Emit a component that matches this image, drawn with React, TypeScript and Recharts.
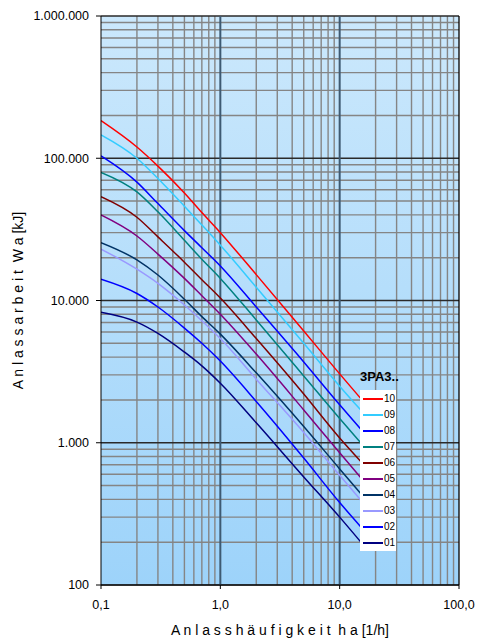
import React from 'react';
import { LineChart, Line, XAxis, YAxis, CartesianGrid, Legend } from 'recharts';

// starting frequency ha [1/h]
const ha = [0.1, 0.2, 0.3, 0.5, 0.7, 1, 2, 5, 10, 15];

// starting work Wa [kJ] per size
const wa10 = [184000, 120000, 88000, 57000, 41500, 30000, 15200, 6100, 3050, 2050];
const wa09 = [146000, 100000, 72000, 46000, 34000, 24500, 12400, 5000, 2500, 1700];
const wa08 = [104000, 68000, 48000, 31000, 23500, 17500, 9000, 3700, 1850, 1250];
const wa07 = [79600, 58000, 42000, 26500, 19500, 14300, 7300, 2950, 1480, 1000];
const wa06 = [53700, 38500, 28000, 18600, 14000, 10400, 5400, 2200, 1080, 740];
const wa05 = [39900, 28400, 21200, 14300, 10800, 8000, 4200, 1700, 850, 570];
const wa04 = [25500, 19300, 15100, 10200, 7700, 5800, 3100, 1300, 655, 440];
const wa03 = [23000, 16600, 13200, 9300, 7200, 5400, 2800, 1180, 590, 396];
const wa02 = [14100, 11200, 9000, 6400, 5000, 3750, 1950, 780, 380, 257];
const wa01 = [8260, 7050, 5870, 4340, 3470, 2620, 1380, 575, 300, 201];

const sizes = ['10', '09', '08', '07', '06', '05', '04', '03', '02', '01'];
const sizeValues = [wa10, wa09, wa08, wa07, wa06, wa05, wa04, wa03, wa02, wa01];
const sizeColors = ['#ff0000', '#33ccff', '#0000ff', '#008080', '#800000', '#800080', '#003366', '#9999ff', '#0000ff', '#000080'];

const xTicks = [0.1, 1, 10, 100];
const yTicks = [100, 1000, 10000, 100000, 1000000];
const xMinor = [0.2, 0.3, 0.4, 0.5, 0.6, 0.7, 0.8, 0.9, 2, 3, 4, 5, 6, 7, 8, 9, 20, 30, 40, 50, 60, 70, 80, 90];
const yMinor = [
  200, 300, 400, 500, 600, 700, 800, 900,
  2000, 3000, 4000, 5000, 6000, 7000, 8000, 9000,
  20000, 30000, 40000, 50000, 60000, 70000, 80000, 90000,
  200000, 300000, 400000, 500000, 600000, 700000, 800000, 900000,
];

const data = ha.map((x, i) => {
  const row: Record<string, number> = { x };
  sizes.forEach((s, k) => {
    row['s' + s] = sizeValues[k][i];
  });
  return row;
});

const font = '"Liberation Sans", Arial, sans-serif';

const fmtY = (v: number) => String(v).replace(/\B(?=(\d{3})+(?!\d))/g, '.');
const fmtX = (v: number) => v.toFixed(1).replace('.', ',');

const renderLegend = () => (
  <div style={{ fontFamily: font, color: '#000' }}>
    <div style={{ fontWeight: 'bold', fontSize: 13, height: 18, lineHeight: '18px', marginBottom: 4 }}>3PA3..</div>
    <div style={{ background: '#fff', width: 36, paddingTop: 1 }}>
      {sizes.map((s, k) => (
        <div key={s} style={{ display: 'flex', alignItems: 'center', height: 16 }}>
          <span style={{ display: 'inline-block', width: 20, height: 2, background: sizeColors[k], marginLeft: 3, marginRight: 1 }} />
          <span style={{ fontSize: 10, lineHeight: '16px' }}>{s}</span>
        </div>
      ))}
    </div>
  </div>
);

export default function App() {
  return (
    <div style={{ width: 478, height: 638, position: 'relative' }}>
      <style>{`body{margin:0}`}</style>
      <svg width={0} height={0} style={{ position: 'absolute' }}>
        <defs>
          <linearGradient id="plotBg" x1="0" y1="0" x2="0" y2="1">
            <stop offset="0%" stopColor="#cbe8fc" />
            <stop offset="100%" stopColor="#9dd3fa" />
          </linearGradient>
        </defs>
      </svg>
      <LineChart width={478} height={638} data={data} margin={{ top: 16, right: 19, bottom: 0, left: 0 }}>
        <CartesianGrid
          fill="url(#plotBg)"
          stroke="#858585"
          strokeWidth={1.4}
          horizontalValues={yMinor}
          verticalValues={xMinor}
        />
        <CartesianGrid
          stroke="#2a2a2a"
          strokeWidth={1.3}
          vertical={false}
          horizontalValues={yTicks}
        />
        <CartesianGrid
          stroke="#3e5a72"
          strokeWidth={2}
          horizontal={false}
          verticalValues={[1, 10]}
        />
        <CartesianGrid
          stroke="#000"
          strokeWidth={1.3}
          horizontal={false}
          verticalValues={[100]}
        />
        <XAxis
          dataKey="x"
          type="number"
          scale="log"
          domain={[0.1, 100]}
          ticks={xTicks}
          interval={0}
          allowDataOverflow
          tickFormatter={fmtX}
          height={53}
          tickSize={4}
          tickMargin={11}
          stroke="#000"
          tick={{ fill: '#000', fontSize: 12.5, fontFamily: font }}
          label={{ value: 'A n l a s s h ä u f i g k e i t\u00a0 h a [1/h]', position: 'insideBottom', offset: 3, fill: '#000', fontSize: 14, fontFamily: font }}
        />
        <YAxis
          type="number"
          scale="log"
          domain={[100, 1000000]}
          ticks={yTicks}
          interval={0}
          allowDataOverflow
          tickFormatter={fmtY}
          width={101}
          tickSize={5}
          tickMargin={7}
          stroke="#000"
          tick={{ fill: '#000', fontSize: 12.5, fontFamily: font }}
          label={{ value: 'A n l a s s a r b e i t\u00a0 W a [kJ]', angle: -90, position: 'insideLeft', offset: 18, fill: '#000', fontSize: 14, fontFamily: font, style: { textAnchor: 'middle' } }}
        />
        {sizes.map((s, k) => (
          <Line
            key={s}
            dataKey={'s' + s}
            name={s}
            type="monotone"
            stroke={sizeColors[k]}
            strokeWidth={1.5}
            dot={false}
            isAnimationActive={false}
          />
        ))}
        <Legend
          layout="vertical"
          align="center"
          verticalAlign="middle"
          content={renderLegend}
          wrapperStyle={{ left: 360, top: 368, width: 44, height: 'auto' }}
        />
      </LineChart>
    </div>
  );
}
